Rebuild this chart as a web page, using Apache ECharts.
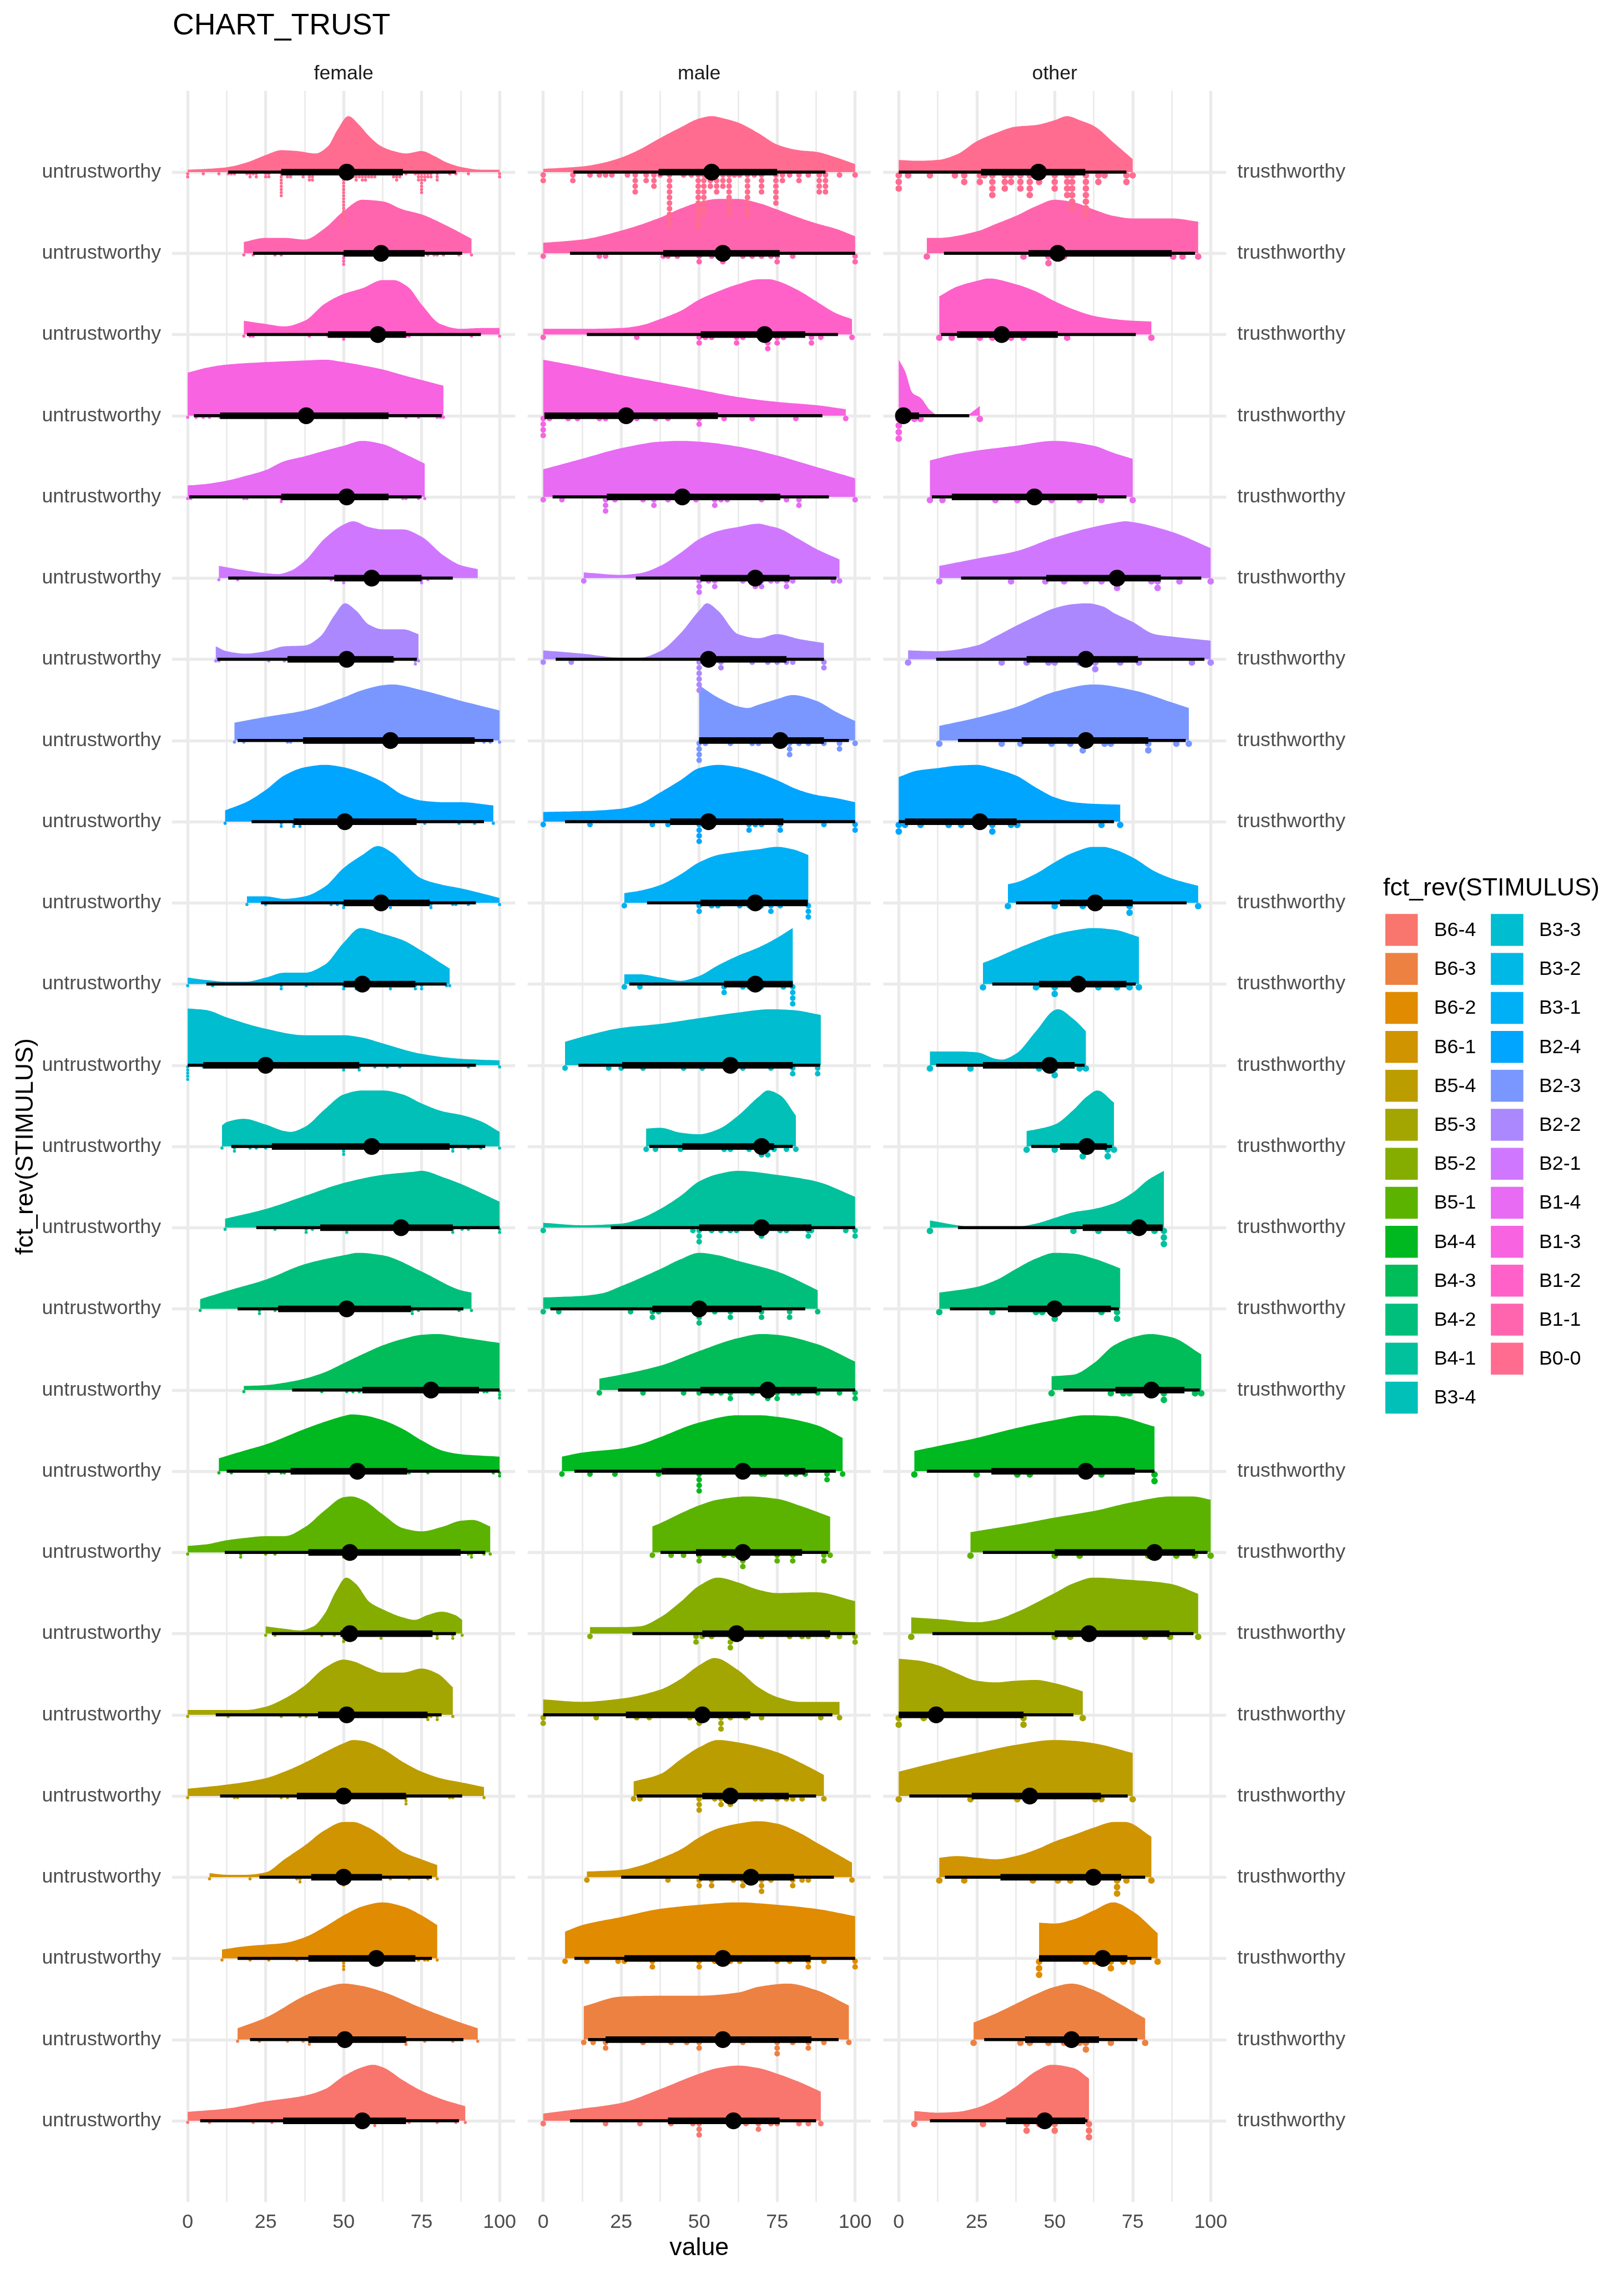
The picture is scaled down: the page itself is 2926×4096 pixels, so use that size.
<!DOCTYPE html>
<html><head><meta charset="utf-8">
<script src="https://cdn.jsdelivr.net/npm/echarts@6/dist/echarts.min.js"></script>
<style>html,body{margin:0;padding:0;background:#fff}#c{width:2926px;height:4096px}</style>
</head><body><div id="c"></div>
<script>
// ---------------- DATA ----------------
const chartTitle = 'CHART_TRUST';
const facets = ['female', 'male', 'other'];
const xTitle = 'value';
const yTitle = 'fct_rev(STIMULUS)';
const legendTitle = 'fct_rev(STIMULUS)';
const leftTickLabel = 'untrustworthy';
const rightTickLabel = 'trusthworthy';
const xTicks = [0, 25, 50, 75, 100];
// factor level order (bottom row first, as in the legend)
const stimuli = ['B6-4','B6-3','B6-2','B6-1','B5-4','B5-3','B5-2','B5-1','B4-4','B4-3','B4-2','B4-1','B3-4',
                 'B3-3','B3-2','B3-1','B2-4','B2-3','B2-2','B2-1','B1-4','B1-3','B1-2','B1-1','B0-0'];
const rowsTopDown = stimuli.slice().reverse();

// densities: [value, height in row units], rows listed top (B0-0) to bottom (B6-4)
const densFemale = [
 [[0,.03],[6,.04],[12.5,.06],[19,.12],[25,.21],[30,.27],[35,.26],[41,.23],[45,.32],[48,.52],[51.5,.69],[55,.58],[58,.45],[62,.32],[66,.26],[70,.23],[75,.26],[79,.2],[83,.12],[88,.06],[94,.03],[100,.03]],
 [[18,.14],[25,.19],[31,.19],[37.5,.17],[44,.31],[50,.52],[56,.66],[62.5,.64],[69,.54],[75,.48],[82,.36],[91,.18]],
 [[18,.17],[25,.13],[31,.10],[37.5,.17],[44,.38],[50,.50],[56,.57],[62.5,.67],[66,.67],[70.5,.59],[75,.37],[81,.13],[87.5,.07],[94,.08],[100,.08]],
 [[0,.53],[6,.59],[12.5,.63],[25,.66],[37.5,.68],[44,.69],[50,.66],[56,.62],[62.5,.57],[69,.50],[75,.44],[82,.37]],
 [[0,.14],[6,.16],[12.5,.2],[18.7,.26],[25,.33],[31,.44],[37.5,.5],[44,.57],[50,.63],[56,.69],[62.5,.65],[69,.54],[76,.41]],
 [[10,.15],[16,.11],[25,.06],[29,.05],[33,.09],[37.5,.21],[44,.49],[50,.66],[53,.70],[58,.63],[62.5,.60],[69,.60],[75,.51],[82,.28],[87.5,.16],[93,.11]],
 [[9,.16],[12.5,.10],[18.7,.07],[25,.10],[31,.16],[37.5,.17],[42.5,.28],[47,.54],[50.4,.69],[54,.60],[58,.43],[62.5,.37],[69,.37],[74,.31]],
 [[15,.22],[25,.29],[37.5,.37],[50,.53],[56,.62],[62.5,.68],[65.5,.69],[75,.62],[87.5,.49],[100,.37]],
 [[12,.14],[18.7,.24],[25,.39],[31,.57],[37.5,.67],[44,.70],[50,.67],[56,.60],[62.5,.49],[69,.33],[75,.26],[82,.24],[87.5,.24],[98,.20]],
 [[19,.08],[25,.08],[31,.05],[37.5,.08],[44,.2],[50,.43],[56,.59],[61,.70],[65.5,.62],[70,.46],[75,.30],[82,.22],[87.5,.18],[94,.12],[100,.06]],
 [[0,.08],[6,.05],[12.5,.03],[18.7,.03],[25,.08],[31,.14],[37.5,.14],[44,.24],[50,.51],[55.4,.69],[62.5,.62],[69,.54],[75,.41],[84,.19]],
 [[0,.70],[6,.68],[12.5,.59],[25,.45],[37.5,.37],[50,.37],[56,.34],[62.5,.27],[75,.14],[87.5,.08],[100,.06]],
 [[11,.26],[12.5,.30],[18,.34],[25,.27],[31,.19],[33,.18],[37.5,.24],[44,.46],[50,.64],[56,.69],[62.5,.69],[69,.64],[75,.53],[82,.43],[87.5,.39],[94,.31],[100,.18]],
 [[12,.11],[25,.23],[37.5,.39],[50,.55],[62.5,.65],[72.7,.69],[75,.70],[82,.62],[87.5,.54],[100,.32]],
 [[4,.12],[12.5,.22],[25,.36],[37.5,.55],[50,.66],[54.7,.69],[62.5,.66],[75,.46],[87.5,.23],[91,.20]],
 [[18,.05],[25,.06],[31,.09],[37.5,.14],[44,.22],[50,.33],[56,.44],[62.5,.55],[69,.63],[75,.68],[80,.69],[87.5,.65],[100,.58]],
 [[10,.16],[18.7,.26],[25,.33],[37.5,.52],[44,.61],[50,.68],[52.5,.70],[56,.69],[62.5,.63],[69,.52],[75,.38],[82,.25],[87.5,.21],[100,.18]],
 [[0,.08],[6,.10],[12.5,.15],[18.7,.18],[25,.20],[31,.20],[37.5,.31],[44,.52],[50,.68],[52.5,.69],[56,.65],[62.5,.47],[69,.30],[75,.26],[82,.32],[87.5,.39],[91.4,.40],[97,.32]],
 [[25,.09],[31,.06],[36,.04],[40.3,.09],[44,.25],[47.5,.52],[50.8,.69],[54,.61],[58.3,.39],[62.5,.30],[69,.20],[72.7,.17],[77,.23],[81.4,.27],[85.7,.23],[88,.17]],
 [[0,.06],[12.5,.06],[18.7,.06],[25,.10],[31,.20],[37.5,.36],[44,.58],[50,.68],[53,.66],[58,.58],[62.5,.52],[69,.52],[75,.57],[80,.51],[85,.34]],
 [[0,.09],[12.5,.14],[25,.22],[31,.30],[37.5,.41],[44,.54],[50,.65],[53,.69],[56,.68],[62.5,.58],[69,.42],[75,.30],[82,.21],[87.5,.17],[95,.11]],
 [[7,.05],[12.5,.03],[18.7,.03],[25,.06],[31,.22],[37.5,.39],[44,.58],[50,.68],[53,.68],[58,.61],[62.5,.50],[69,.31],[75,.22],[80,.15]],
 [[11,.11],[18.7,.15],[25,.17],[31,.19],[37.5,.26],[44,.39],[50,.53],[56,.64],[62.5,.69],[69,.64],[75,.53],[80,.41]],
 [[16,.14],[25,.27],[37.5,.54],[44,.64],[50,.69],[56,.66],[62.5,.59],[75,.39],[87.5,.21],[93,.14]],
 [[0,.11],[12.5,.15],[25,.24],[37.5,.31],[44,.39],[50,.55],[56,.66],[59.4,.69],[62.5,.66],[69,.50],[75,.37],[82,.26],[89,.18]]
];
const densMale = [
 [[0,.04],[12.5,.07],[18.7,.11],[25,.18],[31,.28],[37.5,.42],[44,.55],[50,.66],[54,.69],[58,.66],[62.5,.61],[69,.48],[75,.34],[82,.27],[87.5,.25],[94,.18],[100,.10]],
 [[0,.13],[12.5,.17],[25,.28],[37.5,.44],[44,.55],[50,.63],[56,.67],[62.5,.67],[69,.62],[75,.54],[82,.44],[87.5,.37],[94,.30],[100,.21]],
 [[0,.07],[12.5,.07],[25,.08],[31,.11],[37.5,.19],[44,.29],[50,.43],[56,.53],[62.5,.62],[69,.68],[72.7,.68],[75,.66],[82,.54],[87.5,.41],[94,.26],[99,.19]],
 [[0,.69],[12.5,.60],[25,.50],[37.5,.41],[50,.32],[62.5,.23],[75,.17],[87.5,.13],[97,.08]],
 [[0,.34],[12.5,.47],[25,.60],[37.5,.68],[44,.69],[50,.68],[62.5,.62],[75,.51],[87.5,.37],[100,.23]],
 [[13,.07],[25,.04],[31,.06],[37.5,.15],[44,.31],[50,.48],[56,.58],[62.5,.63],[69,.67],[72.7,.64],[75,.62],[82,.48],[87.5,.36],[95,.23]],
 [[0,.11],[12.5,.07],[25,.02],[31,.02],[37.5,.10],[44,.32],[50,.60],[52.5,.69],[56,.60],[62.5,.31],[69,.26],[75,.31],[82,.25],[90,.20]],
 [[50,.68],[56,.53],[62.5,.42],[65.5,.40],[69,.44],[75,.51],[80,.56],[87.5,.49],[94,.35],[100,.24]],
 [[0,.12],[12.5,.13],[25,.16],[31,.22],[37.5,.36],[44,.51],[50,.66],[56,.70],[62.5,.67],[69,.60],[75,.51],[82,.39],[87.5,.33],[94,.29],[100,.24]],
 [[26,.12],[31,.15],[37.5,.22],[44,.35],[50,.50],[56,.59],[62.5,.63],[69,.66],[75,.69],[80,.66],[85,.59]],
 [[26,.12],[31,.12],[37.5,.08],[44,.04],[50,.10],[56,.23],[62.5,.35],[69,.45],[75,.57],[80,.69]],
 [[7,.29],[12.5,.35],[25,.46],[37.5,.51],[50,.58],[62.5,.65],[72.7,.69],[80,.68],[89,.62]],
 [[33,.22],[37.5,.23],[44,.17],[50,.15],[56,.21],[62.5,.38],[69,.61],[72,.69],[76,.63],[81,.38]],
 [[0,.06],[12.5,.03],[25,.05],[31,.11],[37.5,.23],[44,.39],[50,.57],[56,.66],[62.5,.70],[75,.65],[87.5,.57],[100,.38]],
 [[0,.14],[12.5,.16],[18.7,.19],[25,.28],[37.5,.49],[44,.61],[50,.69],[56,.66],[62.5,.59],[75,.46],[88,.23]],
 [[18,.14],[25,.19],[37.5,.30],[50,.48],[62.5,.64],[70,.69],[75,.68],[87.5,.57],[100,.35]],
 [[6,.18],[12.5,.23],[25,.28],[31,.33],[37.5,.42],[50,.60],[62.5,.69],[69,.69],[75,.67],[87.5,.57],[96,.41]],
 [[35,.32],[37.5,.36],[44,.48],[50,.58],[56,.65],[65.5,.69],[75,.66],[82,.58],[92,.44]],
 [[15,.08],[25,.08],[31,.09],[37.5,.20],[44,.39],[50,.59],[56,.69],[62.5,.63],[69,.54],[75,.50],[87.5,.51],[100,.40]],
 [[0,.19],[12.5,.16],[25,.20],[37.5,.31],[44,.44],[50,.61],[55,.70],[62.5,.55],[69,.34],[75,.22],[82,.16],[87.5,.16],[95,.16]],
 [[29,.18],[37.5,.27],[44,.45],[50,.60],[56,.69],[62.5,.66],[75,.54],[82,.42],[90,.26]],
 [[14,.07],[25,.09],[31,.14],[37.5,.23],[44,.34],[50,.49],[56,.60],[62.5,.66],[69,.69],[75,.66],[82,.55],[87.5,.43],[99,.18]],
 [[7,.33],[12.5,.41],[25,.51],[37.5,.61],[50,.66],[62.5,.69],[75,.66],[87.5,.61],[100,.52]],
 [[13,.41],[25,.53],[37.5,.54],[50,.54],[62.5,.58],[69,.65],[78.5,.69],[87.5,.61],[98,.42]],
 [[0,.09],[12.5,.15],[25,.22],[37.5,.39],[50,.58],[56,.65],[62.5,.68],[69,.65],[75,.58],[82,.48],[89,.36]]
];
const densOther = [
 [[0,.15],[6,.14],[12.5,.15],[18.7,.22],[25,.38],[31,.48],[37.5,.56],[44,.58],[50,.64],[54,.69],[58,.64],[62.5,.57],[69,.36],[75,.16]],
 [[9,.19],[12.5,.19],[25,.27],[31,.36],[37.5,.46],[44,.58],[50,.66],[56,.63],[62.5,.54],[69,.46],[75,.43],[82,.43],[87.5,.43],[96,.39]],
 [[13,.47],[18.7,.59],[25,.66],[28.8,.69],[37.5,.62],[44,.53],[50,.41],[56,.31],[62.5,.23],[69,.19],[75,.17],[81,.16]],
 [[0,.69],[2,.55],[4.4,.28],[7,.22],[10,.07],[12.5,.01],[17,0],[22,.01],[24,.06],[26,.12]],
 [[10,.45],[18.7,.53],[25,.57],[37.5,.63],[50,.69],[62.5,.63],[69,.54],[75,.47]],
 [[13,.15],[25,.24],[37.5,.33],[50,.50],[62.5,.63],[69,.68],[72.7,.70],[75,.69],[87.5,.57],[100,.37]],
 [[3,.11],[12.5,.10],[25,.17],[31,.28],[37.5,.41],[44,.53],[50,.63],[56,.68],[60.5,.69],[65.5,.65],[69,.57],[75,.46],[82,.31],[87.5,.28],[100,.23]],
 [[13,.18],[25,.28],[37.5,.41],[50,.60],[62.5,.69],[75,.62],[87.5,.47],[93,.40]],
 [[0,.55],[6,.63],[12.5,.66],[18.7,.69],[25,.70],[31,.65],[37.5,.57],[44,.42],[50,.30],[56,.24],[62.5,.22],[71,.21]],
 [[35,.23],[37.5,.25],[44,.36],[50,.50],[56,.62],[62.5,.69],[65.5,.69],[69,.66],[75,.56],[82,.39],[87.5,.30],[96,.21]],
 [[27,.26],[31,.32],[37.5,.43],[44,.53],[50,.61],[56,.66],[62.5,.69],[69,.67],[77,.58]],
 [[10,.17],[18.7,.17],[25,.16],[31,.08],[33,.07],[37.5,.14],[44,.42],[50,.68],[51,.69],[56,.57],[60,.42]],
 [[41,.19],[44,.21],[50,.27],[56,.45],[60.5,.62],[63.7,.69],[69,.54]],
 [[10,.09],[18.7,.03],[25,0],[37.5,.01],[44,.05],[50,.12],[56,.19],[62.5,.23],[69,.30],[75,.43],[80,.59],[85,.70]],
 [[13,.20],[25,.27],[31,.35],[37.5,.49],[44,.62],[50,.69],[56,.68],[62.5,.62],[71,.50]],
 [[49,.17],[56,.19],[62.5,.33],[69,.55],[75,.65],[80.6,.69],[87.5,.65],[97,.44]],
 [[5,.25],[12.5,.31],[25,.41],[37.5,.53],[50,.63],[60,.69],[69,.68],[82,.55]],
 [[23,.25],[31,.30],[37.5,.34],[50,.43],[62.5,.51],[75,.62],[87.5,.69],[94,.69],[100,.65]],
 [[4,.20],[12.5,.18],[25,.14],[31,.17],[37.5,.26],[50,.50],[56,.62],[62.5,.69],[75,.66],[82,.64],[87.5,.61],[96,.49]],
 [[0,.69],[6,.67],[12.5,.61],[18.7,.51],[25,.42],[31,.40],[37.5,.42],[44,.43],[50,.39],[59,.29]],
 [[0,.30],[12.5,.42],[25,.53],[37.5,.63],[50,.69],[56,.68],[62.5,.65],[75,.53]],
 [[13,.24],[18.7,.26],[25,.24],[31,.22],[37.5,.26],[44,.34],[50,.44],[56,.52],[62.5,.61],[69,.68],[72.7,.68],[81,.50]],
 [[45,.44],[50,.43],[56,.48],[62.5,.59],[68.8,.69],[75,.58],[83,.31]],
 [[24,.21],[31,.32],[37.5,.44],[44,.56],[50,.65],[55.4,.69],[62.5,.61],[69,.48],[79,.26]],
 [[5,.12],[12.5,.10],[18.7,.11],[25,.16],[31,.26],[37.5,.42],[44,.61],[49,.69],[56,.65],[61,.52]]
];

// point intervals: [median, 66% low, 66% high, 95% low, 95% high]
const ivFemale = [[51,30,69,13,86],[62,50,76,21,88],[61,45,70,19,94],[38,10.4,64.4,2,81.5],[51,30,64.4,0.5,75],
 [59,47,75,13,85],[51,32,66,9.5,73.5],[65,37,92,16,98],[50.4,34,73.4,20.5,95],[62,50,77.6,23.5,92.4],
 [56,50,73,6,83],[25,5,55,0,92.4],[59,27,84,14,95.4],[68.4,42.5,85,22,100],[51,29,71.6,16,88.4],
 [78,56,93.4,33.5,100],[54.4,33,70.4,12.5,100],[52,38.7,87.5,11.9,95.4],[52,49,78.5,27,86],[51,41.8,76.9,9,81.4],
 [50,35,70,10.4,88],[50,39.6,62.3,23,78.3],[60.5,38.7,73,16,78.3],[50.4,38.7,70,20,88.4],[56,30.6,70,4,87]];
const ivMale = [[54,37,75,9.7,90.5],[57.6,38.5,75.8,8.6,100],[71,50.5,84,14,94.5],[26.6,0.4,56,0.4,89.5],[44.6,20.4,76,3,91.6],
 [68,50.4,79,29.7,94],[53,50.4,78,4,90],[76,50,90,50,98],[53,40.7,77,7,100],[68,50.4,84.8,33.3,84.8],
 [68,58,80,27.6,80],[60,25.3,80,11.3,88.8],[70,44.6,74,34,80],[70,50,86,21.7,100],[50,35,70,2.3,84],
 [72,50.4,87.7,24,100],[64,38,84,10,93.8],[64,49,83,37.6,91.4],[62,51,92,28.6,100],[51,26.5,66.4,0,92.7],
 [60,51,78.7,30,87.5],[66.6,50,80.4,25,93.2],[57.6,26,85.7,10,100],[57.6,20,86,14.4,94.7],[61,40,75.8,8.6,87.5]];
const ivOther = [[44.8,26.4,59.8,0,73],[51,41.6,87.5,14.5,95],[33,18.7,51,13.6,76],[1.5,0,6.5,0,22.6],[43.5,17,63.6,10.6,73],
 [70,47.3,84,20,97],[60,41,76.7,12,98],[60,39.4,80,19,92],[26,2,37.8,0,69],[63,51.7,75,37.6,92.3],
 [57.5,45,73,30,76],[48.4,27,56.4,12,59.6],[60.3,51.7,66.7,42.5,68.4],[77,59,84.6,19,84.6],[50,35,68,16.4,70.6],
 [81,69.5,91.6,52.8,96.5],[60,29.7,75.7,9,82],[82,50,95,27,99],[61,50,86.8,10.8,94.5],[12,0,40,0,56],
 [42,23.4,64.8,3.4,73.4],[62.4,32.6,71.3,14.8,79],[65.4,45,73.3,45,81],[55.4,40.5,64.2,27.4,76.5],[46.8,34.4,59.8,10,60.5]];

// dots: [value, stacked count]
const dotsFemale = [
 [[0,2],[5,1],[10,1],[13,1],[14,1],[15,1],[19,1],[20,2],[21,1],[22,2],[25,2],[26,2],[30,8],[32,2],[33,2],[35,1],[37,2],[39,3],[40,3],[44,1],[50,17],[52,2],[53,2],[54,3],[55,2],[56,3],[57,3],[58,2],[59,2],[60,2],[62,1],[63,1],[66,2],[67,3],[68,2],[70,1],[73,1],[74,3],[75,7],[76,3],[77,2],[78,2],[80,3],[84,1],[86,1],[90,1],[100,2]],
 [[18,1],[21,1],[28,1],[30,1],[50,4],[56,1],[62,1],[77,1],[79,1],[80,1],[82,1],[87,1],[91,1]],
 [[18,1],[20,1],[21,1],[39,1],[45,1],[50,2],[62,1],[69,1],[70,1],[71,1],[91,1],[100,1]],
 [[0,1],[2.7,1],[5,1],[7,1],[10.4,1],[27,1],[50,1],[54,1],[70,1],[74,1],[80,1],[81,1],[82,1]],
 [[0,1],[1,1],[18,1],[19,1],[30,2],[60,1],[64,1],[69,1],[70,1],[74,1],[76,1]],
 [[10,1],[16,1],[46,1],[50,2],[51,1],[75,2],[77,1]],
 [[9,1],[10,1],[26,1],[31,1],[50,2],[51,2],[66,1],[73,2],[74,1]],
 [[15,1],[18,1],[32,1],[33,1],[68,1],[95,1],[97,1],[100,1]],
 [[12,1],[30,2],[34,2],[36,2],[76,1],[87,1],[92,1],[98,1]],
 [[19,1],[25,1],[46,1],[48,1],[50,2],[55,1],[65,2],[78,2],[85,1],[86,1],[90,1],[100,1]],
 [[0,1],[8,1],[30,2],[38,1],[50,2],[51,1],[54,2],[65,2],[73,2],[75,2],[83,1],[84,1]],
 [[0,5],[5,1],[50,2],[55,2],[60,1],[64,1],[68,1],[90,1],[100,1]],
 [[11,1],[15,2],[20,1],[22,1],[25,1],[45,1],[50,3],[68,1],[70,1],[85,2],[90,1],[94,1],[100,1]],
 [[12,1],[28,1],[38,2],[40,1],[51,2],[75,1],[80,1],[85,2],[88,1],[90,1],[100,2]],
 [[4,1],[23,2],[28,1],[29.6,1],[72,2],[74,1],[87,1],[91,1]],
 [[18,1],[43,1],[51,1],[53,1],[55,1],[81,1],[89,1],[95,1],[96,1],[100,3]],
 [[10,1],[14,1],[26,1],[30,1],[31,1],[40,1],[68,1],[71,1],[77,1],[98,1],[100,2]],
 [[0,1],[17,2],[25,1],[28,1],[50,2],[62,1],[90,1],[91,2],[95,1],[97,1]],
 [[25,1],[28,1],[43,1],[47,1],[50,3],[51,2],[62,2],[68,1],[80,2],[85,2],[88,1]],
 [[0,1],[13,1],[30,1],[36,1],[38,1],[50,2],[51,2],[77,2],[78,1],[80,2],[85,1]],
 [[0,1],[15,1],[16,1],[30,1],[32,1],[50,2],[55,1],[59,1],[70,3],[84,1],[85,1],[95,1]],
 [[7,1],[20,1],[35,1],[36,2],[46,1],[50,3],[57,1],[60,1],[65,1],[71,1],[77,1],[80,1]],
 [[11,1],[20,1],[26,1],[35,1],[50,4],[74,1],[76,1],[77,1],[80,1]],
 [[16,1],[23,1],[32,1],[37,1],[39,2],[50,2],[66,1],[70,2],[76,1],[85,1],[93,1]],
 [[0,1],[7,1],[21,1],[27,1],[31,1],[43,1],[55,1],[60,2],[71,1],[80,1],[86,1],[89,1]]
];
const dotsMale = [
 [[0,2],[9.5,2],[15,1],[18,1],[20,1],[22,1],[27,1],[29.5,4],[33,2],[35.5,3],[37.5,1],[40.5,10],[45,1],[47.5,1],[49.7,10],[51.5,8],[53.6,3],[55.6,4],[57.6,3],[59.6,8],[61.3,1],[63,1],[65.5,8],[67.7,1],[70,4],[74.6,6],[76.7,2],[79,1],[82,2],[85,1],[88.5,4],[90.5,4],[95,1],[100,1]],
 [[0,1],[18,1],[20,1],[38.5,1],[40,1],[43,1],[50,2],[54,1],[57.6,2],[64,1],[67,1],[70,1],[73,1],[75,2],[80,1],[100,2]],
 [[0,1],[30,1],[50,2],[52,1],[54,1],[62,2],[64,1],[72,3],[75,2],[77,1],[86,2],[89,1],[99,1]],
 [[0,4],[2,1],[8,1],[11,1],[18,1],[20,1],[30,1],[36,1],[40,1],[50,2],[58,1],[67,1],[81,1],[97,1]],
 [[0,1],[6,1],[20,3],[23,1],[32,1],[35.5,2],[40,1],[44,1],[49,1],[55,2],[57,1],[59,1],[70,1],[78,1],[82,2],[100,1]],
 [[13,1],[50,3],[53,1],[55,2],[64,1],[68,2],[70,2],[73,1],[75,1],[78,2],[80,1],[93,1],[95,1]],
 [[0,1],[9,1],[50,6],[53,1],[57,2],[67,1],[72,1],[75,1],[78,1],[80,1],[90,2]],
 [[50,4],[52,1],[60,1],[67,1],[69,1],[76,1],[79,3],[82,1],[85,1],[90,1],[95,2],[100,1]],
 [[0,1],[15,1],[35,1],[40,1],[50,4],[53,1],[66,2],[68,1],[70,1],[76,2],[90,1],[100,2]],
 [[26,1],[50,2],[54,1],[56,1],[63,1],[66,1],[70,1],[73,2],[76,1],[85,3]],
 [[26,1],[31,1],[58,2],[64,1],[66,1],[70,1],[77,1],[80,4]],
 [[7,1],[21,1],[25,1],[32,1],[45,1],[51,1],[64,1],[73,1],[80,2],[88,2]],
 [[33,1],[36,1],[44,1],[58,1],[60,1],[66,1],[70,2],[72,2],[74,1],[78,1],[81,1]],
 [[0,1],[48,1],[50,3],[54,1],[57,1],[60,1],[62,1],[70,2],[76,1],[78,1],[85,2],[86,1],[97,1],[100,2]],
 [[0,1],[5,1],[28,1],[35,2],[37,1],[50,3],[55,1],[60,2],[70,2],[79,2],[88,1]],
 [[18,1],[32,1],[45,1],[50,1],[54,1],[57,1],[60,2],[67,1],[72,2],[75,2],[80,1],[82,1],[88,1],[95,1],[100,2]],
 [[6,1],[15,1],[23,1],[37,1],[50,4],[64,1],[70,1],[71,1],[78,1],[81,1],[84,1],[91,2],[96,1]],
 [[35,1],[41,1],[45,1],[50,2],[58,1],[61,1],[64,3],[75,2],[80,2],[90,2],[92,1]],
 [[15,1],[49,2],[51,1],[54,1],[60,3],[70,1],[79,1],[83,1],[85,1],[91,1],[95,1],[100,2]],
 [[0,2],[17,1],[30,1],[34,1],[47,1],[50,2],[57,3],[60,1],[65,1],[70,1],[89,1],[95,1]],
 [[29,1],[31,1],[50,3],[55,1],[57,2],[60,2],[68,1],[70,1],[75,1],[78,1],[80,1],[83,1],[90,1]],
 [[14,1],[40,1],[50,2],[54,2],[61,1],[64,2],[70,3],[73,1],[80,2],[83,1],[85,1],[99,1]],
 [[7,1],[14,1],[24,1],[26,1],[35,2],[50,2],[55,1],[60,1],[63,1],[75,1],[79,1],[85,2],[90,1],[100,2]],
 [[13,1],[16,1],[20,2],[32,1],[41,1],[46,1],[50,2],[64,1],[75,3],[80,1],[85,2],[90,1],[98,1]],
 [[0,1],[20,1],[31,1],[41,1],[48,1],[50,3],[60,1],[65,1],[69,2],[73,1],[75,1],[82,1],[85,1],[89,1]]
];
const dotsOther = [
 [[0,3],[3,1],[10,1],[18,1],[21,2],[26,2],[27.5,1],[30,4],[34,3],[36,2],[39,3],[42,4],[45,2],[50,3],[54,4],[55.6,6],[60,7],[64,2],[66,1],[73,2],[75,1]],
 [[9,1],[40,1],[48,2],[53,1],[88,1],[91,1],[96,1]],
 [[13,1],[17,1],[26,1],[30,1],[36,1],[40,1],[54,1],[81,1]],
 [[0,4],[5,1],[7,1],[26,1]],
 [[10,1],[14,1],[31,1],[38,1],[49,1],[58,1],[65,1],[75,1]],
 [[13,1],[36,1],[47,1],[53,1],[60,1],[65,1],[70,2],[81,1],[83,2],[90,1],[100,1]],
 [[3,1],[33,1],[41,1],[48,1],[50,1],[58,1],[60,1],[63,2],[71,1],[77,1],[94,1],[100,1]],
 [[13,1],[33,1],[39,1],[49,1],[55,1],[59,2],[66,1],[68,1],[80,2],[89,1],[93,1]],
 [[0,2],[2,1],[7,1],[16,1],[20,1],[30,2],[36,1],[38,1],[65,1],[71,1]],
 [[35,1],[50,1],[59,1],[74,2],[96,1]],
 [[27,1],[44,1],[50,2],[64,1],[70,1],[74,1],[77,1]],
 [[10,1],[23,1],[45,1],[50,2],[58,1],[60,1]],
 [[41,1],[50,1],[59,2],[67,2],[69,1]],
 [[10,1],[56,1],[64,1],[74,1],[82,1],[85,3]],
 [[13,1],[30,1],[44,1],[46,1],[50,2],[65,1],[70,2]],
 [[49,1],[68,1],[72,1],[74,1],[85,2],[95,1],[97,1]],
 [[5,1],[25,1],[38,1],[42,1],[60,1],[65,1],[82,2]],
 [[23,1],[50,1],[58,1],[80,1],[89,1],[95,1],[100,1]],
 [[4,1],[50,1],[55,1],[79,1],[87,1],[96,1]],
 [[0,2],[8,1],[40,2],[59,1]],
 [[0,1],[23,1],[38,1],[63,1],[65,1],[75,1]],
 [[13,1],[21,1],[43,1],[51,1],[55,1],[70,3],[73,1],[81,1]],
 [[45,3],[60,1],[63,1],[65,1],[68,2],[72,1],[75,1],[83,1]],
 [[24,1],[39,1],[42,1],[48,1],[53,1],[58,1],[60,2],[68,1],[79,1]],
 [[5,1],[27,1],[41,2],[45,1],[50,2],[61,3]]
];

// ---------------- STYLE / LAYOUT ----------------
const S = 0.975;
const FONT = '"Liberation Sans", Arial, Helvetica, sans-serif';
const GRID_COL = '#EBEBEB';
const panelLeft = [318, 975, 1632].map(v => v * S);
const panelW = 634 * S;
const unitPx = panelW / 110;
const plotTop = 168 * S;          // value 26
const rowPx = 150 * S;
const dotRadius = [2.9 * S, 5.2 * S, 6.05 * S];
const thinW = 5.6 * S, thickW = 12 * S, pointR = 15.5 * S;
const fsSmall = 36.67 * S, fsMid = 45.83 * S, fsTitle = 55 * S;
const TXT_DY = 2.5;   // small baseline nudge for canvas 'middle' alignment

function hcl(h, c, l) {
  const hr = h * Math.PI / 180;
  const U = c * Math.cos(hr), V = c * Math.sin(hr);
  const Xn = 95.047, Yn = 100, Zn = 108.883;
  const den = Xn + 15 * Yn + 3 * Zn;
  const un = 4 * Xn / den, vn = 9 * Yn / den;
  const Y = l > 8 ? Yn * Math.pow((l + 16) / 116, 3) : Yn * l / 903.3;
  const u = U / (13 * l) + un, v = V / (13 * l) + vn;
  const X = 9 * Y * u / (4 * v);
  const Z = -X / 3 - 5 * Y + 3 * Y / v;
  const x = X / 100, y = Y / 100, z = Z / 100;
  const r = 3.240479 * x - 1.537150 * y - 0.498535 * z;
  const g = -0.969256 * x + 1.875992 * y + 0.041556 * z;
  const b = 0.055648 * x - 0.204043 * y + 1.057311 * z;
  const gm = t => { t = t <= 0.0031308 ? 12.92 * t : 1.055 * Math.pow(t, 1 / 2.4) - 0.055; return Math.round(255 * Math.min(1, Math.max(0, t))); };
  return 'rgb(' + gm(r) + ',' + gm(g) + ',' + gm(b) + ')';
}
const levelColors = stimuli.map((s, i) => hcl(15 + 360 * i / stimuli.length, 100, 65));
const colorOfRow = r => levelColors[stimuli.length - 1 - r];

// monotone cubic smoothing of pixel points (rendering only)
function smoothPts(p, n) {
  const N = p.length;
  if (N < 3) return p.slice();
  const dx = [], m = [], t = [];
  for (let i = 0; i < N - 1; i++) { dx[i] = p[i + 1][0] - p[i][0]; m[i] = (p[i + 1][1] - p[i][1]) / dx[i]; }
  t[0] = m[0]; t[N - 1] = m[N - 2];
  for (let i = 1; i < N - 1; i++) {
    if (m[i - 1] * m[i] <= 0) t[i] = 0;
    else t[i] = 3 * (dx[i - 1] + dx[i]) / ((2 * dx[i] + dx[i - 1]) / m[i - 1] + (dx[i] + 2 * dx[i - 1]) / m[i]);
  }
  const out = [];
  for (let i = 0; i < N - 1; i++) {
    const h = dx[i];
    for (let k = 0; k < n; k++) {
      const s = k / n, s2 = s * s, s3 = s2 * s;
      const h00 = 2 * s3 - 3 * s2 + 1, h10 = s3 - 2 * s2 + s, h01 = -2 * s3 + 3 * s2, h11 = s3 - s2;
      out.push([p[i][0] + s * h, h00 * p[i][1] + h10 * h * t[i] + h01 * p[i + 1][1] + h11 * h * t[i + 1]]);
    }
  }
  out.push(p[N - 1]);
  return out;
}

const panels = [
  { dens: densFemale, iv: ivFemale, dots: dotsFemale },
  { dens: densMale, iv: ivMale, dots: dotsMale },
  { dens: densOther, iv: ivOther, dots: dotsOther }
];

const grid = [], xAxis = [], yAxis = [], series = [];
const rowData = rowsTopDown.map((s, r) => [r, 25 - r]);

panels.forEach((P, p) => {
  // background panel (horizontal gridlines + row labels)
  grid.push({ left: panelLeft[p], top: plotTop + rowPx, width: panelW, height: 24 * rowPx, outerBoundsMode: 'none' });
  xAxis.push({ gridIndex: 2 * p, type: 'value', min: -5, max: 105, show: false });
  yAxis.push({
    gridIndex: 2 * p, type: 'value', min: 1, max: 25, interval: 1,
    position: p === 2 ? 'right' : 'left',
    axisLine: { show: false }, axisTick: { show: false },
    splitLine: { show: true, lineStyle: { color: GRID_COL, width: 5.6 * S } },
    axisLabel: { show: p !== 1, formatter: () => (p === 0 ? leftTickLabel : rightTickLabel),
      color: '#4D4D4D', fontSize: fsSmall, fontFamily: FONT, margin: 20, padding: [2 * TXT_DY, 0, 0, 0] }
  });
  // data panel
  grid.push({ left: panelLeft[p] + 5 * unitPx, top: plotTop, width: 100 * unitPx, height: 26 * rowPx, outerBoundsMode: 'none' });
  xAxis.push({
    gridIndex: 2 * p + 1, type: 'value', min: xTicks[0], max: xTicks[xTicks.length - 1], interval: xTicks[1] - xTicks[0],
    axisLine: { show: false }, axisTick: { show: false },
    axisLabel: { color: '#4D4D4D', fontSize: fsSmall, fontFamily: FONT, margin: 16 + TXT_DY, showMinLabel: true, showMaxLabel: true },
    splitLine: { show: true, lineStyle: { color: GRID_COL, width: 5.6 * S } },
    minorTick: { show: false, splitNumber: 2 },
    minorSplitLine: { show: true, lineStyle: { color: GRID_COL, width: 2.8 * S } }
  });
  yAxis.push({ gridIndex: 2 * p + 1, type: 'value', min: 0, max: 26, show: false });

  const xi = 2 * p + 1, yi = 2 * p + 1;
  series.push({
    type: 'custom', xAxisIndex: xi, yAxisIndex: yi, z: 2, silent: true, data: rowData,
    renderItem: (params, api) => {
      const r = params.dataIndex, base = 25 - r, d = P.dens[r];
      const top = d.map(([x, h]) => api.coord([x, base + h]));
      const pts = [api.coord([d[0][0], base])].concat(smoothPts(top, 12), [api.coord([d[d.length - 1][0], base])]);
      return { type: 'polygon', shape: { points: pts }, style: { fill: colorOfRow(r) } };
    }
  });
  series.push({
    type: 'custom', xAxisIndex: xi, yAxisIndex: yi, z: 3, silent: true, data: rowData,
    renderItem: (params, api) => {
      const r = params.dataIndex, base = 25 - r, rad = dotRadius[p];
      const children = [];
      P.dots[r].forEach(([v, c]) => {
        const pt = api.coord([v, base]);
        for (let k = 0; k < c; k++) {
          children.push({ type: 'circle', shape: { cx: pt[0], cy: pt[1] + rad + 2 * rad * k, r: rad }, style: { fill: colorOfRow(r) } });
        }
      });
      return { type: 'group', children };
    }
  });
  series.push({
    type: 'custom', xAxisIndex: xi, yAxisIndex: yi, z: 4, silent: true, data: rowData,
    renderItem: (params, api) => {
      const r = params.dataIndex, base = 25 - r;
      const [med, tl, th, nl, nh] = P.iv[r];
      const a = api.coord([nl, base]), b = api.coord([nh, base]);
      const c = api.coord([tl, base]), d = api.coord([th, base]);
      const m = api.coord([med, base]);
      return { type: 'group', children: [
        { type: 'rect', shape: { x: a[0], y: a[1] - thinW / 2, width: b[0] - a[0], height: thinW }, style: { fill: '#000' } },
        { type: 'rect', shape: { x: c[0], y: c[1] - thickW / 2, width: d[0] - c[0], height: thickW }, style: { fill: '#000' } },
        { type: 'circle', shape: { cx: m[0], cy: m[1], r: pointR }, style: { fill: '#000' } }
      ] };
    }
  });
});

// ---------------- TEXT + LEGEND ----------------
const graphic = [];
const txt = (x, y, text, size, color, align, extra) => Object.assign({
  type: 'text', x, y, silent: true,
  style: { text, fontSize: size, fontFamily: FONT, fill: color, align, verticalAlign: 'middle' }
}, extra || {});
graphic.push(txt(319 * S, 43 * S + 5, chartTitle, fsTitle, '#000', 'left'));
facets.forEach((f, p) => graphic.push(txt(panelLeft[p] + panelW / 2, 134 * S + TXT_DY, f, fsSmall, '#1A1A1A', 'center')));
graphic.push(txt((panelLeft[0] + panelLeft[2] + panelW) / 2, 4151 * S + TXT_DY, xTitle, fsMid, '#000', 'center'));
graphic.push(txt(48 * S, 2118 * S, yTitle, fsMid, '#000', 'center', { rotation: Math.PI / 2 }));
graphic.push(txt(2556 * S, 1639 * S + TXT_DY, legendTitle, fsMid, '#000', 'left'));
const perCol = 13;
stimuli.forEach((s, i) => {
  const col = Math.floor(i / perCol), row = i % perCol;
  const kx = (col === 0 ? 2560 : 2755) * S;
  const cy = (1718 + 72 * row) * S;
  graphic.push({ type: 'rect', silent: true, shape: { x: kx, y: cy - 29.5 * S, width: 60 * S, height: 59 * S }, style: { fill: levelColors[i] } });
  graphic.push(txt((col === 0 ? 2650 : 2844) * S, cy + 1, s, fsSmall, '#000', 'left'));
});

const chart = echarts.init(document.getElementById('c'), null, { renderer: 'canvas', width: 2926, height: 4096 });
chart.setOption({
  animation: false,
  backgroundColor: '#FFFFFF',
  grid, xAxis, yAxis, series, graphic
});
</script>
</body></html>
